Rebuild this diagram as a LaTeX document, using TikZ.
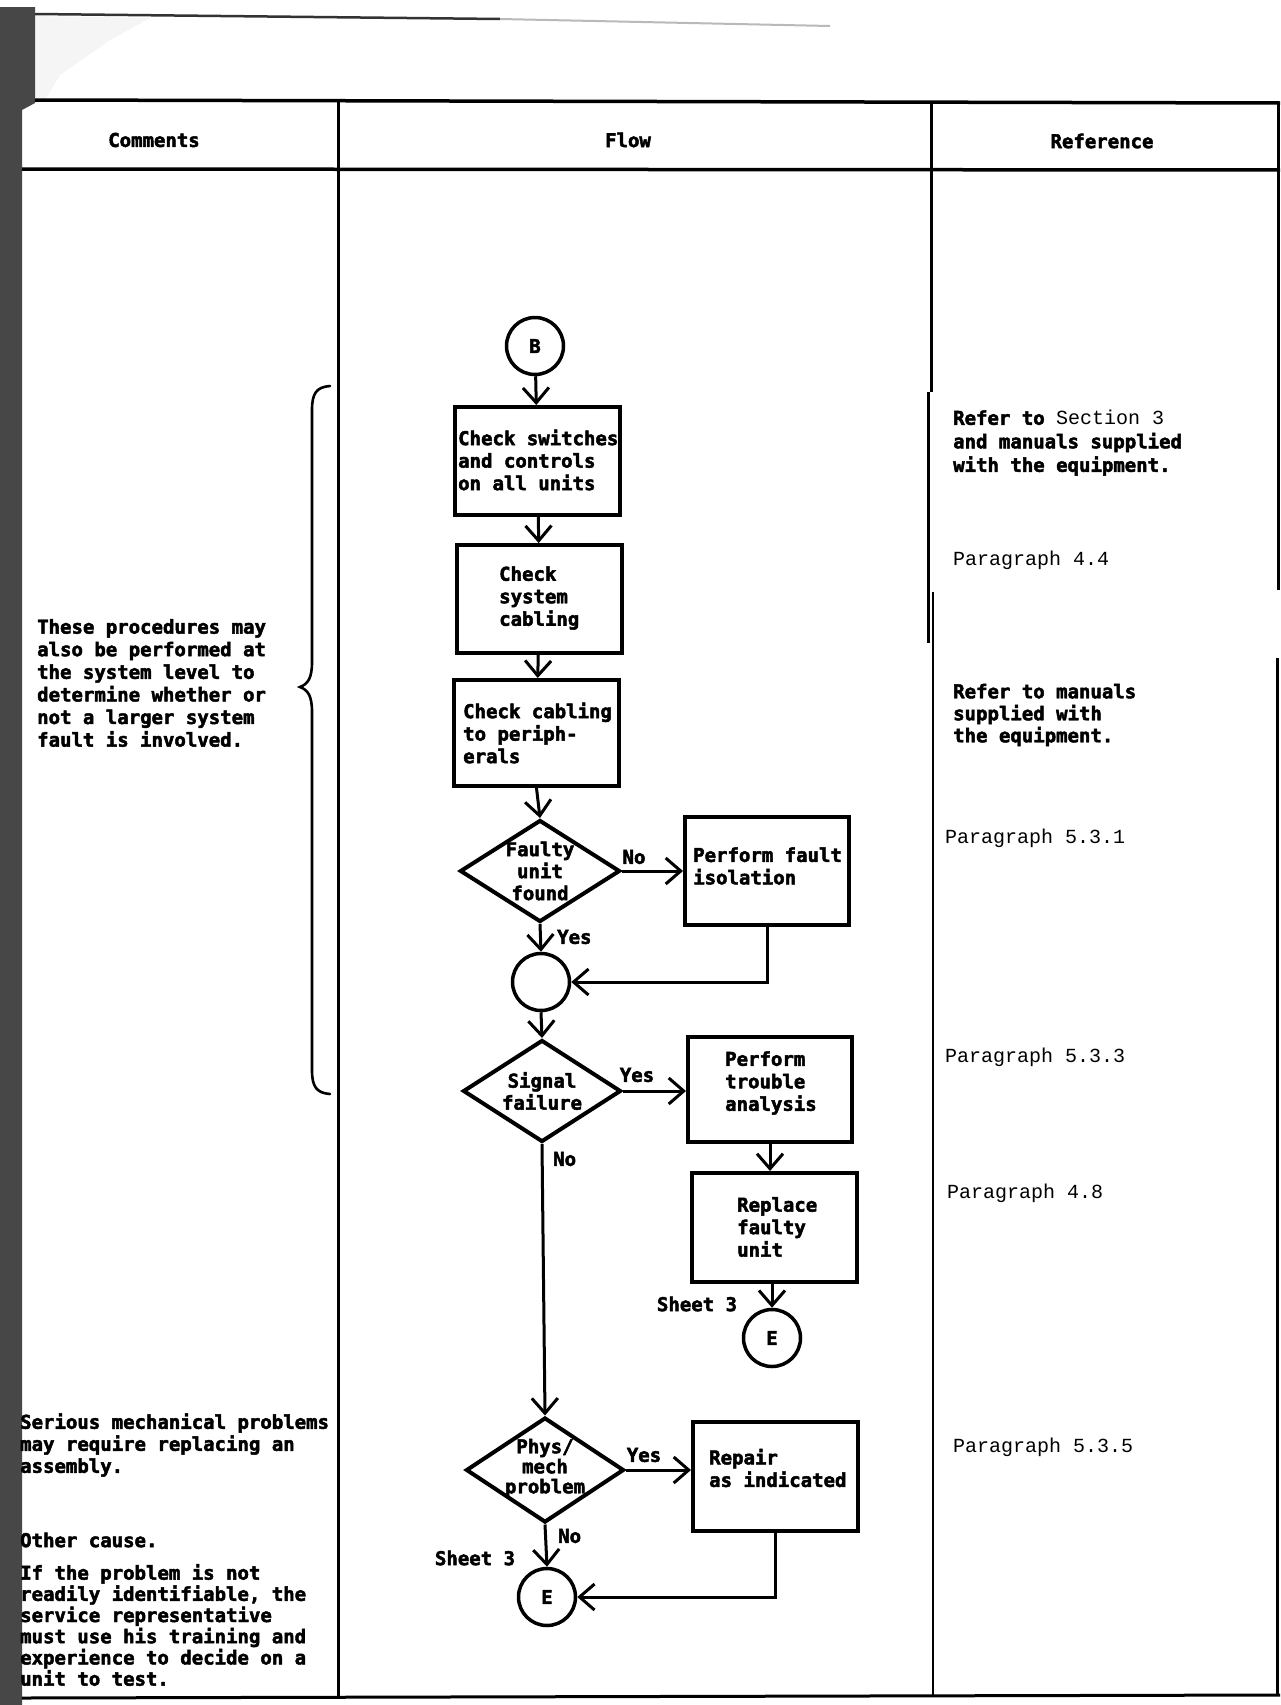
\documentclass[tikz,border=0pt]{standalone}
\usepackage{fontspec}
\usetikzlibrary{arrows.meta,shapes.geometric}
\newfontfamily\monob{DejaVu Sans Mono}[BoldFont={DejaVu Sans Mono Bold},BoldFeatures={FakeBold=2.5}]
\newfontfamily\courf{Liberation Mono}
\newcommand\bfsz[1]{\monob\bfseries\fontsize{19}{#1}\selectfont}
\newcommand\parfont{\courf\mdseries\fontsize{20}{23}\selectfont}
\begin{document}
\begin{tikzpicture}[x=1pt,y=-1pt,
  box/.style={draw,line width=4pt,inner sep=0},
  dia/.style={draw,diamond,line width=4pt,inner sep=0},
  conn/.style={draw,circle,line width=3.5pt,inner sep=0,minimum size=57pt,font=\bfsz{22}},
  txt/.style={font=\bfsz{22.5},inner sep=0,align=left,anchor=west},
  ctxt/.style={font=\bfsz{22},inner sep=0,align=center},
  reftxt/.style={font=\parfont,inner sep=0,anchor=west},
  flow/.style={line width=3pt,-{Straight Barb[length=15pt,width=26pt]}},
  rule/.style={line width=3pt},
  brace/.style={line width=2.6pt,line cap=round}
]
\useasboundingbox (0,0) rectangle (1280,1705);
\fill[white] (0,0) rectangle (1280,1705);
% scan edges
\fill[gray!8] (35,16) -- (150,18) -- (110,40) -- (60,75) -- (45,100) -- (35,100) -- cycle;
\fill[black!72] (4,7) -- (35,7) -- (35,103) -- (22,110) -- (22,1705) -- (0,1705) -- (0,7) -- cycle;
\draw[line width=2.5pt,black!80] (35,14) -- (500,19);
\draw[line width=2pt,gray!55] (500,19) -- (830,26);
% table rules
\draw[rule,line width=3.5pt] (35,100) -- (1280,103);
\draw[rule,line width=3.5pt] (22,169) -- (1280,170);
\draw[rule] (22,1698) -- (1280,1695);
\draw[rule] (338,100) -- (338,1698);
\draw[rule] (931,101) -- (931,392);
\draw[rule] (928,392) -- (928,643);
\draw[rule,line width=2pt] (933,592) -- (933,1697);
\draw[rule] (1278,103) -- (1278,590);
\draw[rule] (1277,658) -- (1277,1696);
% headers
\node[ctxt] (hc) at (154,140) {Comments};
\node[ctxt] (hf) at (628,140) {Flow};
\node[ctxt] (hr) at (1102,141) {Reference};
% flow nodes
\node[conn] (B) at (535,346) {B};
\node[box,minimum width=165pt,minimum height=108pt] (b1) at (537.5,461) {};
\node[box,minimum width=165pt,minimum height=108pt] (b2) at (539.5,599) {};
\node[box,minimum width=165pt,minimum height=106pt] (b3) at (536.5,733) {};
\node[dia,minimum width=160pt,minimum height=102pt] (d1) at (540,871) {};
\node[box,minimum width=164pt,minimum height=108pt] (pfi) at (767,871) {};
\node[conn] (c1) at (541,982) {};
\node[dia,minimum width=158pt,minimum height=102pt] (sig) at (542,1091) {};
\node[box,minimum width=164pt,minimum height=105pt] (tro) at (770,1089.5) {};
\node[box,minimum width=165pt,minimum height=109pt] (rep) at (774.5,1227.5) {};
\node[conn] (e1) at (772,1338) {E};
\node[dia,minimum width=158pt,minimum height=105pt] (phys) at (545,1470) {};
\node[box,minimum width=165pt,minimum height=109pt] (rpr) at (775.5,1476.5) {};
\node[conn] (e2) at (547,1597) {E};
% flow texts
\node[txt] (t1) at (458,460) {Check switches\\and controls\\on all units};
\node[txt] (t2) at (499,598) {Check\\system\\cabling};
\node[txt] (t3) at (463,733) {Check cabling\\to periph-\\erals};
\node[ctxt] (td1) at (540,871) {Faulty\\unit\\found};
\node[txt] (tpfi) at (693,866) {Perform fault\\isolation};
\node[ctxt] (tsig) at (542,1091) {Signal\\failure};
\node[txt] (ttro) at (725,1083) {Perform\\trouble\\analysis};
\node[txt] (trep) at (737,1227) {Replace\\faulty\\unit};
\node[ctxt,font=\bfsz{20}] (tphys) at (545,1468) {Phys/\\mech\\problem};
\node[txt] (trpr) at (709,1468) {Repair\\as indicated};
% labels
\node[ctxt] (lno1) at (634,857) {No};
\node[txt] (lyes1) at (557,937) {Yes};
\node[ctxt] (lyes2) at (637,1075) {Yes};
\node[txt] (lno2) at (553,1159) {No};
\node[ctxt] (lyes3) at (644,1455) {Yes};
\node[txt] (lno3) at (558,1536) {No};
\node[ctxt] (sh1) at (697,1304) {Sheet 3};
\node[ctxt] (sh2) at (475,1558) {Sheet 3};
% connectors
\draw[flow] (B) -- (b1);
\draw[flow] (b1) -- (b2);
\draw[flow] (b2) -- (b3);
\draw[flow] (b3.south) -- (d1.north);
\draw[flow] (d1.east) -- (pfi.west);
\draw[flow] (d1.south) -- (c1.north);
\draw[flow] (pfi.south) |- (c1.east);
\draw[flow] (c1.south) -- (sig.north);
\draw[flow] (sig.east) -- (sig.east -| tro.west);
\draw[flow] (sig.south) -- (phys.north);
\draw[flow] (tro.south) -- (tro.south |- rep.north);
\draw[flow] (e1 |- rep.south) -- (e1.north);
\draw[flow] (phys.east) -- (phys.east -| rpr.west);
\draw[flow] (phys.south) -- (e2.north);
\draw[flow] (rpr.south) |- (e2.east);
% brace
\draw[brace] (330,386) .. controls (316,387) and (312,394) .. (312,410) -- (312,662) .. controls (312,678) and (308,684) .. (300,687) .. controls (308,690) and (312,696) .. (312,712) -- (312,1070) .. controls (312,1086) and (316,1093) .. (330,1094);
% comments
\node[txt,font=\bfsz{22.6}] (cm1) at (37,683) {These procedures may\\also be performed at\\the system level to\\determine whether or\\not a larger system\\fault is involved.};
\node[txt,font=\bfsz{22}] (cm2) at (20,1445) {Serious mechanical problems\\may require replacing an\\assembly.};
\node[txt] (cm3) at (20,1540) {Other cause.};
\node[txt,font=\bfsz{21.2}] (cm4) at (20,1625) {If the problem is not\\readily identifiable, the\\service representative\\must use his training and\\experience to decide on a\\unit to test.};
% references
\node[txt,font=\bfsz{23.5}] (rf1) at (953,443) {Refer to {\parfont Section 3}\\and manuals supplied\\with the equipment.};
\node[reftxt] (rf2) at (953,560) {Paragraph 4.4};
\node[txt,font=\bfsz{22}] (rf3) at (953,715) {Refer to manuals\\supplied with\\the equipment.};
\node[reftxt] (rf4) at (945,838) {Paragraph 5.3.1};
\node[reftxt] (rf5) at (945,1057) {Paragraph 5.3.3};
\node[reftxt] (rf6) at (947,1193) {Paragraph 4.8};
\node[reftxt] (rf7) at (953,1447) {Paragraph 5.3.5};
\end{tikzpicture}
\end{document}
